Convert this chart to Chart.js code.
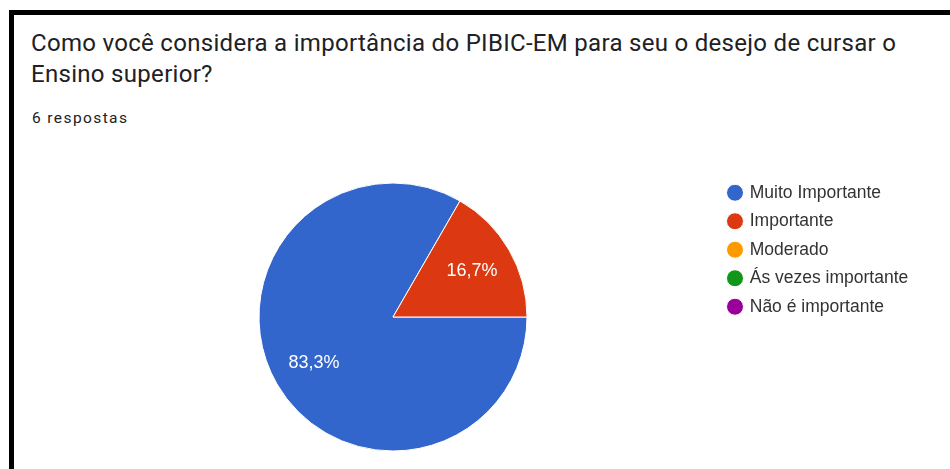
<!DOCTYPE html>
<html>
<head>
<meta charset="utf-8">
<script src="https://cdn.jsdelivr.net/npm/chart.js@4"></script>
<style>
  html, body { margin: 0; padding: 0; background: #fff; overflow: hidden; width: 950px; height: 469px; }
  #moldura { position: absolute; left: 9px; top: 10px; width: 2000px; height: 2000px; border: 5px solid #000; }
  #titulo { position: absolute; left: 31px; top: 28px; font-family: Roboto, sans-serif; font-size: 24px; line-height: 31px; color: #202124; white-space: nowrap; letter-spacing: 0.3px; }
  #respostas { position: absolute; left: 32px; top: 109px; font-family: Roboto, sans-serif; font-size: 15.5px; line-height: 18px; color: #202124; letter-spacing: 1.4px; }
  #caixa { position: absolute; left: 0; top: 0; width: 950px; height: 469px; }
</style>
</head>
<body>
<div id="moldura"></div>
<div id="titulo">Como você considera a importância do PIBIC-EM para seu o desejo de cursar o<br>Ensino superior?</div>
<div id="respostas">6 respostas</div>
<div id="caixa"><canvas id="chartPibic"></canvas></div>

<script>
// dados do grafico -------------------------------------------------
const labels = ['Muito Importante', 'Importante', 'Moderado', 'Ás vezes importante', 'Não é importante'];
const respostas = [5, 1, 0, 0, 0];
const cores = ['#3366cc', '#dc3912', '#ff9900', '#109618', '#990099'];

const fonteLegenda = '"Liberation Sans", Arial, sans-serif';
const tamLegenda = 17.5;

// mede o maior texto da legenda para posicionar o bloco
function larguraLegenda() {
    var ctx = document.createElement('canvas').getContext('2d');
    ctx.font = tamLegenda + 'px ' + fonteLegenda;
    var maior = 0;
    for (let i = 0; i < labels.length; i++) {
        maior = Math.max(maior, ctx.measureText(labels[i]).width);
    }
    return maior;
}

// porcentagens dentro das fatias
const rotulosPizza = {
    id: 'rotulosPizza',
    afterDatasetsDraw(chart) {
        const ctx = chart.ctx;
        const meta = chart.getDatasetMeta(0);
        const valores = chart.data.datasets[0].data;
        const total = valores.reduce((a, b) => a + b, 0);
        ctx.save();
        ctx.fillStyle = '#fff';
        ctx.font = '18px ' + fonteLegenda;
        ctx.textAlign = 'center';
        ctx.textBaseline = 'middle';
        meta.data.forEach(function (arc, i) {
            if (!valores[i]) return;
            const p = arc.getProps(['x', 'y', 'startAngle', 'endAngle', 'outerRadius'], true);
            const meio = (p.startAngle + p.endAngle) / 2;
            const r = p.outerRadius * 0.68;
            const texto = (valores[i] / total * 100).toFixed(1).replace('.', ',') + '%';
            ctx.fillText(texto, p.x + Math.cos(meio) * r, p.y + Math.sin(meio) * r);
        });
        ctx.restore();
    }
};

function chartPibic() {
    const dataPibic = {
        labels: labels,
        datasets: [{
            data: respostas,
            backgroundColor: cores,
            borderColor: '#fff',
            borderWidth: 1,
            radius: 134
        }]
    };

    const configPibic = {
        type: 'pie',
        data: dataPibic,
        options: {
            responsive: true,
            maintainAspectRatio: false,
            animation: false,
            rotation: 90,
            layout: {
                padding: { top: 173, bottom: 8, left: 68, right: 190.25 - larguraLegenda() }
            },
            plugins: {
                tooltip: { enabled: false },
                legend: {
                    position: 'right',
                    align: 'start',
                    labels: {
                        usePointStyle: true,
                        pointStyle: 'circle',
                        boxWidth: 12,
                        boxHeight: 12,
                        padding: 11,
                        color: '#333',
                        font: { size: tamLegenda, family: fonteLegenda }
                    }
                }
            }
        },
        plugins: [rotulosPizza]
    };

    const myChartPibic = new Chart(
        document.getElementById('chartPibic'),
        configPibic
    );
}

chartPibic();
</script>
</body>
</html>
